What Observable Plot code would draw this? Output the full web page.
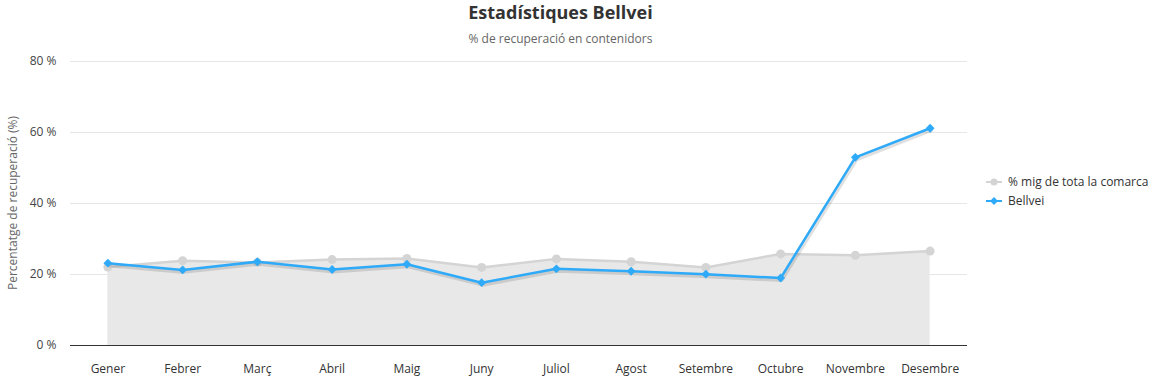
<!DOCTYPE html>
<html>
<head>
<meta charset="utf-8">
<script src="https://cdn.jsdelivr.net/npm/d3@7"></script>
<script src="https://cdn.jsdelivr.net/npm/@observablehq/plot@0.6"></script>
<style>
  html, body { margin: 0; background: #fff; overflow: hidden; font-family: "Open Sans", "Noto Sans", sans-serif; }
  #wrap { position: relative; width: 1161px; height: 378px; overflow: hidden; }
  #chart svg { display: block; max-width: none !important; }
  #title { position: absolute; top: 0px; left: 0; width: 1121px; text-align: center; font-size: 18px; font-weight: 700; color: #333; }
  #subtitle { position: absolute; top: 30px; left: 0; width: 1121px; text-align: center; font-size: 12px; color: #666; }
  #ylabel { position: absolute; left: 12px; top: 203px; transform: translate(-50%, -50%) rotate(-90deg); white-space: nowrap; font-size: 12px; color: #666; }
  #legend { position: absolute; left: 986px; top: 172px; font-size: 12px; color: #333; }
  .item { display: flex; align-items: center; height: 19px; }
  .item svg { margin-right: 6px; }
</style>
</head>
<body>
<div id="wrap">
  <div id="chart"></div>
  <div id="title">Estadístiques Bellvei</div>
  <div id="subtitle">% de recuperació en contenidors</div>
  <div id="ylabel">Percentatge de recuperació (%)</div>
  <div id="legend"></div>
</div>
<script>
const months = ["Gener","Febrer","Març","Abril","Maig","Juny","Juliol","Agost","Setembre","Octubre","Novembre","Desembre"];
const avgValues = [22.1, 23.9, 23.4, 24.2, 24.5, 22.0, 24.4, 23.6, 22.0, 25.8, 25.4, 26.6];
const bellveiValues = [23.2, 21.3, 23.6, 21.4, 22.9, 17.7, 21.6, 20.9, 20.1, 19.0, 53.0, 61.2];
const yTicks = [0, 20, 40, 60, 80];
const seriesNames = ["% mig de tota la comarca", "Bellvei"];
const avgColor = "#d4d4d4";
const blueColor = "#2eaaf8";

const avg = months.map((m, i) => ({month: m, value: avgValues[i]}));
const bell = months.map((m, i) => ({month: m, value: bellveiValues[i]}));

const chart = Plot.plot({
  width: 1161,
  height: 378,
  marginTop: 61,
  marginBottom: 33,
  marginLeft: 70,
  marginRight: 194,
  style: {fontFamily: "'Open Sans', 'Noto Sans', sans-serif", fontSize: "12px", color: "#333"},
  x: {type: "point", domain: months, padding: 0.5, round: false},
  y: {domain: [0, 80]},
  marks: [
    Plot.gridY(yTicks, {stroke: "#e6e6e6", strokeOpacity: 1}),
    Plot.areaY(avg, {x: "month", y: "value", fill: "#e8e8e8", fillOpacity: 1}),
    Plot.line(avg, {x: "month", y: "value", stroke: avgColor, strokeWidth: 2.5}),
    Plot.dot(avg, {x: "month", y: "value", r: 4.5, fill: avgColor, stroke: "none"}),
    Plot.ruleY([0], {stroke: "#333", strokeWidth: 1}),
    Plot.line(bell, {x: "month", y: "value", stroke: "#000", strokeOpacity: 0.12, strokeWidth: 4, dx: 1, dy: 2}),
    Plot.line(bell, {x: "month", y: "value", stroke: blueColor, strokeWidth: 2.5}),
    Plot.dot(bell, {x: "month", y: "value", symbol: "diamond2", r: 4, fill: blueColor, stroke: "none"}),
    Plot.axisY(yTicks, {tickSize: 0, tickPadding: 14, tickFormat: d => d + " %", label: null, fill: "#444", fontSize: 12}),
    Plot.axisX({tickSize: 0, tickPadding: 19, label: null, fill: "#333", fontSize: 12})
  ]
});
document.getElementById("chart").appendChild(chart);

// legend
const legend = document.getElementById("legend");
const symbols = [d3.symbolCircle, d3.symbolDiamond2];
const colors = [avgColor, blueColor];
seriesNames.forEach((name, i) => {
  const item = document.createElement("div");
  item.className = "item";
  const sw = d3.create("svg").attr("width", 16).attr("height", 12);
  sw.append("line").attr("x1", 0).attr("x2", 16).attr("y1", 6).attr("y2", 6).attr("stroke", colors[i]).attr("stroke-width", 2);
  sw.append("path").attr("transform", "translate(8,6)")
    .attr("d", d3.symbol(symbols[i], 40)())
    .attr("fill", colors[i]);
  item.appendChild(sw.node());
  const t = document.createElement("span");
  t.textContent = name;
  item.appendChild(t);
  legend.appendChild(item);
});
</script>
</body>
</html>
